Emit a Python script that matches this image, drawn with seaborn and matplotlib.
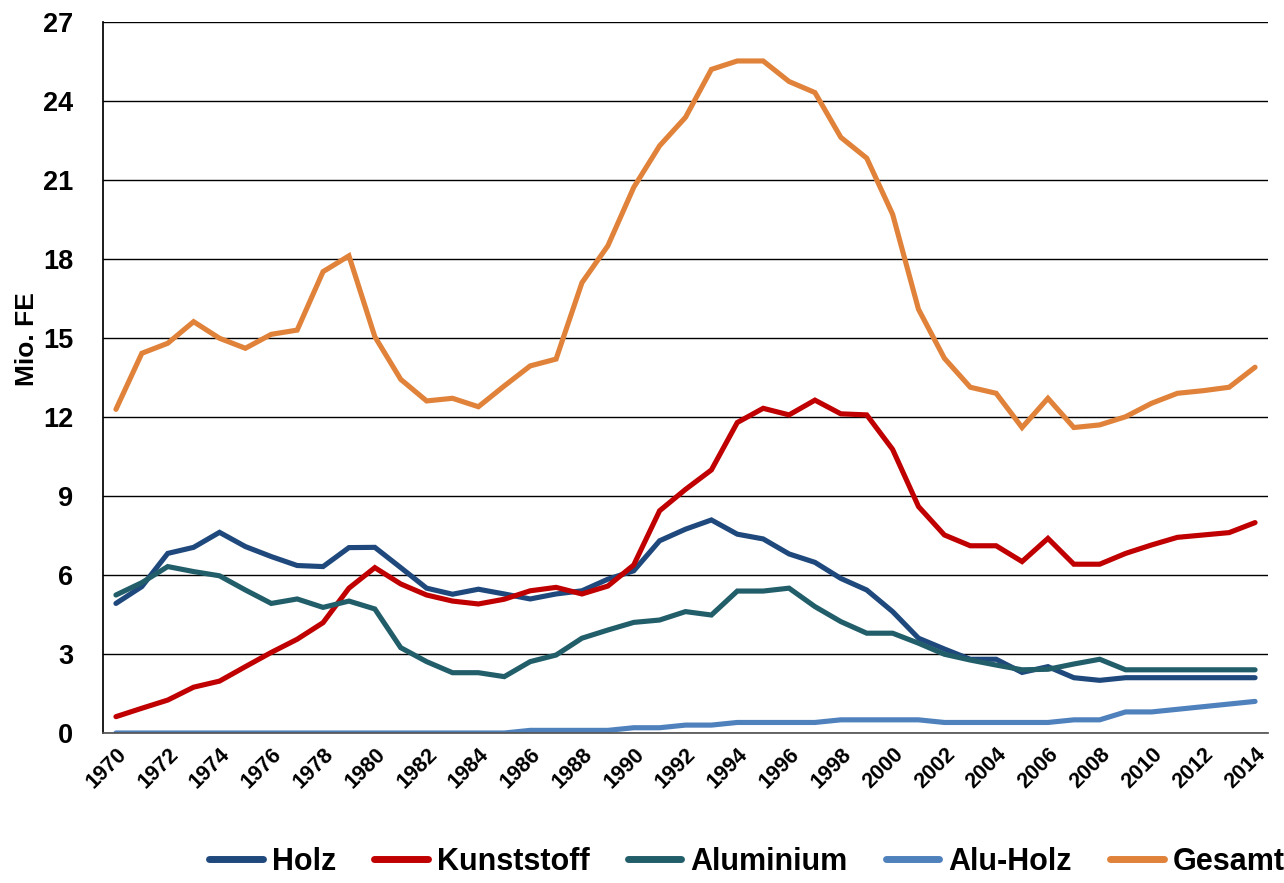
import numpy as np
import pandas as pd
import matplotlib
matplotlib.use("Agg")
import matplotlib.pyplot as plt
import seaborn as sns

# data (Mio. FE)
years = list(range(1970, 2015))

holz = [4.92, 5.56, 6.82, 7.05, 7.62, 7.08, 6.70, 6.36, 6.32, 7.04,
        7.05, 6.28, 5.50, 5.27, 5.46, 5.28, 5.09, 5.28, 5.40, 5.84,
        6.16, 7.30, 7.74, 8.09, 7.55, 7.37, 6.80, 6.48, 5.87, 5.43,
        4.61, 3.60, 3.19, 2.80, 2.80, 2.30, 2.52, 2.10, 2.00, 2.10,
        2.10, 2.10, 2.10, 2.10, 2.10]

kunststoff = [0.62, 0.94, 1.25, 1.74, 1.97, 2.52, 3.06, 3.56, 4.19, 5.50,
              6.28, 5.66, 5.24, 5.01, 4.90, 5.08, 5.40, 5.53, 5.28, 5.58,
              6.38, 8.44, 9.25, 9.99, 11.79, 12.33, 12.08, 12.64, 12.12, 12.08,
              10.77, 8.60, 7.52, 7.11, 7.11, 6.51, 7.39, 6.41, 6.41, 6.82,
              7.14, 7.43, 7.52, 7.61, 7.99]

aluminium = [5.24, 5.71, 6.32, 6.13, 5.97, 5.43, 4.92, 5.09, 4.77, 5.01,
             4.71, 3.24, 2.71, 2.29, 2.29, 2.14, 2.71, 2.96, 3.60, 3.91,
             4.20, 4.29, 4.61, 4.48, 5.39, 5.39, 5.50, 4.80, 4.23, 3.79,
             3.79, 3.41, 2.99, 2.77, 2.58, 2.40, 2.42, 2.62, 2.80, 2.40,
             2.40, 2.40, 2.40, 2.40, 2.40]

alu_holz = [0.0, 0.0, 0.0, 0.0, 0.0, 0.0, 0.0, 0.0, 0.0, 0.0,
            0.0, 0.0, 0.0, 0.0, 0.0, 0.0, 0.1, 0.1, 0.1, 0.1,
            0.2, 0.2, 0.3, 0.3, 0.4, 0.4, 0.4, 0.4, 0.5, 0.5,
            0.5, 0.5, 0.4, 0.4, 0.4, 0.4, 0.4, 0.5, 0.5, 0.8,
            0.8, 0.9, 1.0, 1.1, 1.2]

gesamt = [12.29, 14.42, 14.80, 15.62, 14.99, 14.61, 15.14, 15.30, 17.52, 18.12,
          15.05, 13.43, 12.61, 12.71, 12.39, 13.18, 13.94, 14.20, 17.10, 18.50,
          20.72, 22.30, 23.38, 25.20, 25.52, 25.52, 24.74, 24.32, 22.62, 21.83,
          19.70, 16.09, 14.23, 13.13, 12.90, 11.60, 12.71, 11.60, 11.70, 12.01,
          12.52, 12.90, 13.00, 13.13, 13.89]

series_names = ["Holz", "Kunststoff", "Aluminium", "Alu-Holz", "Gesamt"]
colors = ["#1F497D", "#C00000", "#215E6A", "#4F81BD", "#E0823A"]

df = pd.DataFrame({"Jahr": years, "Holz": holz, "Kunststoff": kunststoff,
                   "Aluminium": aluminium, "Alu-Holz": alu_holz, "Gesamt": gesamt})
long = df.melt(id_vars="Jahr", var_name="Material", value_name="Wert")

sns.set_theme(style="white")
plt.rcParams["font.family"] = ["Liberation Sans", "DejaVu Sans"]
plt.rcParams["font.weight"] = "bold"
plt.rcParams["text.color"] = "black"
plt.rcParams["xtick.color"] = "black"
plt.rcParams["ytick.color"] = "black"

fig = plt.figure(figsize=(12.84, 8.83), dpi=100)
ax = fig.add_axes([103 / 1284, 1 - 733 / 883, (1268 - 103) / 1284, (733 - 22) / 883])

sns.lineplot(data=long, x="Jahr", y="Wert", hue="Material", hue_order=series_names,
             palette=colors, linewidth=3.7, ax=ax, legend=False)
for line in ax.lines:
    line.set_solid_capstyle("round")
    line.set_solid_joinstyle("miter")

ax.set_xlim(1969.5, 2014.5)
ax.set_ylim(0, 27)
ax.set_yticks(np.arange(0, 28, 3))
ax.yaxis.grid(True, color="black", linewidth=1.0)
ax.set_axisbelow(True)

ax.set_xticks(years[::2])
ax.set_xticklabels([str(y) for y in years[::2]], rotation=45, ha="right",
                   va="top", rotation_mode="anchor", fontsize=15.5, fontweight="bold")
ax.set_xticks(np.arange(1969.5, 2015, 1), minor=True)
ax.tick_params(axis="x", which="major", length=0, pad=8)
ax.tick_params(axis="x", which="minor", length=6, width=1, color="#555555", direction="out")
ax.tick_params(axis="y", length=10, width=1, color="black", direction="out", pad=11.5)
for lab in ax.get_yticklabels():
    lab.set_fontsize(19.5)
    lab.set_fontweight("bold")

for side in ["top", "right"]:
    ax.spines[side].set_visible(False)
ax.spines["left"].set_color("black")
ax.spines["bottom"].set_color("#555555")
ax.set_xlabel("")
ax.set_ylabel("")

fig.text(27 / 1284, 1 - 339 / 883, "Mio. FE", rotation=90, ha="center", va="center",
         fontsize=19, fontweight="bold")

handles = [plt.Line2D([], [], color=c, linewidth=5, solid_capstyle="round") for c in colors]
fig.legend(handles, series_names, loc="center", bbox_to_anchor=(747 / 1284, 1 - 862 / 883),
           ncol=5, frameon=False, handlelength=1.75, handletextpad=0.3, columnspacing=1.25,
           borderpad=0, borderaxespad=0, prop={"weight": "bold", "size": 22})

fig.savefig("out.png", dpi=100)
